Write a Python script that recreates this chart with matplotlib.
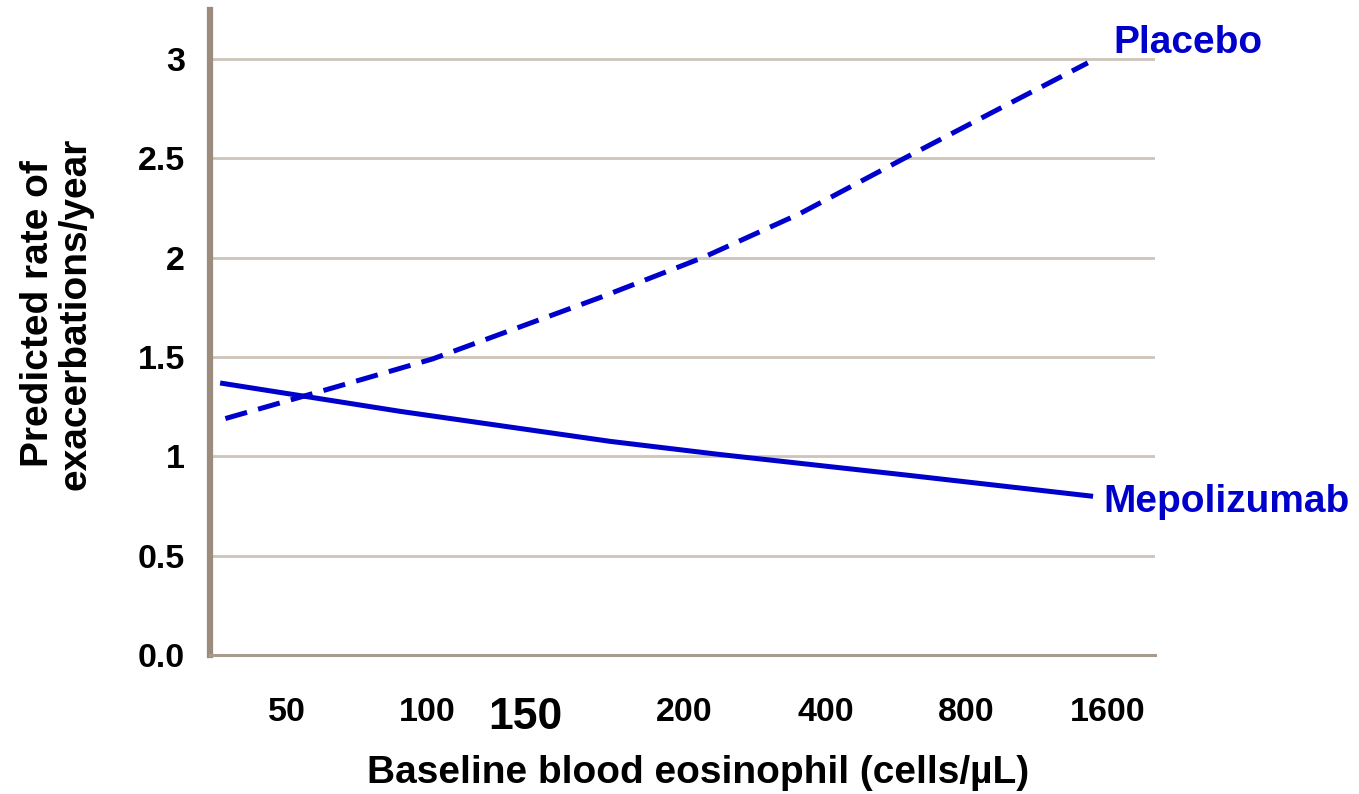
import matplotlib
matplotlib.use("Agg")
import matplotlib.pyplot as plt

# x positions are in "label slot" units along the (irregular) printed axis
tick_pos = [0, 1.0, 1.70, 2.84, 3.85, 4.85, 5.86]
tick_labels = ["50", "100", "150", "200", "400", "800", "1600"]

y_ticks = [0, 0.5, 1, 1.5, 2, 2.5, 3]
y_labels = ["0.0", "0.5", "1", "1.5", "2", "2.5", "3"]

placebo_x = [-0.44, 0.33, 1.04, 2.24, 2.97, 3.66, 4.41, 5.09, 5.72]
placebo_y = [1.19, 1.345, 1.49, 1.80, 2.00, 2.22, 2.50, 2.75, 2.98]

mepo_x = [-0.46, 0.81, 2.31, 3.08, 4.43, 5.74]
mepo_y = [1.367, 1.226, 1.075, 1.01, 0.905, 0.80]

blue = "#0000cc"
plt.rcParams['font.family'] = ['Liberation Sans', 'DejaVu Sans']

fig = plt.figure(figsize=(13.59, 7.94), dpi=100)
ax = fig.add_axes([210/1359, 1 - 655/794, 945/1359, 645/794])

ax.set_xlim(-0.55, 6.2)
ax.set_ylim(0, 3.246)

for y in y_ticks[1:]:
    ax.axhline(y, color="#cdc4ba", lw=2.0, zorder=1)

ax.plot(placebo_x, placebo_y, color=blue, lw=3.6, dashes=(4.5, 2.3), zorder=3)
ax.plot(mepo_x, mepo_y, color=blue, lw=3.6, zorder=3)

ax.text(5.9, 3.08, "Placebo", color=blue, fontsize=28, fontweight="bold", va="center", ha="left")
ax.text(5.83, 0.77, "Mepolizumab", color=blue, fontsize=28, fontweight="bold", va="center", ha="left")

for s in ["top", "right"]:
    ax.spines[s].set_visible(False)
ax.spines["left"].set_color("#9c8c7e")
ax.spines["left"].set_linewidth(4.5)
ax.spines["bottom"].set_color("#a89a8c")
ax.spines["bottom"].set_linewidth(2.2)

ax.set_xticks(tick_pos)
ax.set_xticklabels(tick_labels, fontsize=24.5, fontweight="bold")
ax.get_xticklabels()[2].set_fontsize(32)
ax.set_yticks(y_ticks)
ax.set_yticklabels(y_labels, fontsize=24.5, fontweight="bold")
ax.tick_params(axis="x", length=0, pad=30)
ax.tick_params(axis="y", length=0, pad=18)

fig.text(698/1359, 1 - 773/794, "Baseline blood eosinophil (cells/µL)", fontsize=28,
         fontweight="bold", ha="center", va="center")
fig.text(57/1359, 1 - 314/794, "Predicted rate of\nexacerbations/year", rotation=90,
         fontsize=28, fontweight="bold", ha="center", va="center", linespacing=1.05)

fig.savefig("out.png", dpi=100)
